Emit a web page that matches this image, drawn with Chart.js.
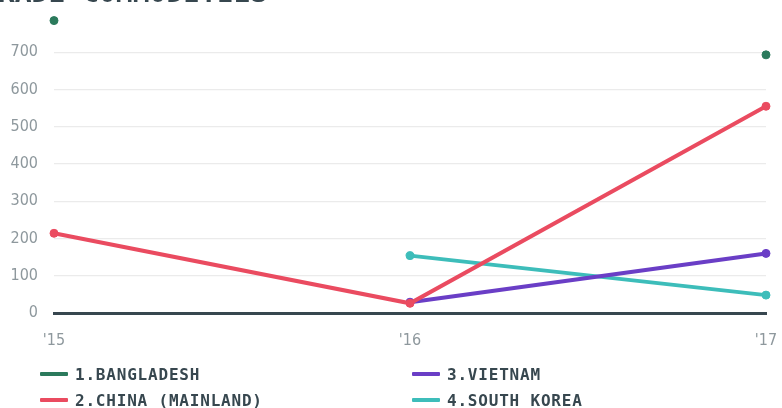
<!DOCTYPE html>
<html>
<head>
<meta charset="utf-8">
<script src="https://cdn.jsdelivr.net/npm/chart.js@4/dist/chart.umd.min.js"></script>
<style>
  html, body { margin: 0; padding: 0; background: #fff; overflow: hidden; }
  #wrap { position: relative; width: 782px; height: 408px; }
  #legend { position: absolute; left: 0; top: 0; width: 782px; height: 408px; pointer-events: none; }
  .item { position: absolute; display: flex; align-items: center; font-family: "DejaVu Sans Mono", monospace; font-weight: bold; font-size: 16px; color: #37474f; letter-spacing: 0.8px; white-space: nowrap; }
  .sw { width: 28px; height: 4px; margin-right: 7px; border-radius: 1px; }
</style>
</head>
<body>
<div id="wrap">
  <canvas id="c" width="782" height="408"></canvas>
  <div id="legend"></div>
</div>
<script>
const categories = ["'15", "'16", "'17"];
const seriesNames = ["1.BANGLADESH", "2.CHINA (MAINLAND)", "3.VIETNAM", "4.SOUTH KOREA"];
const bangladesh = [785, null, 693];
const china = [214, 26, 555];
const vietnam = [null, 29, 160];
const southKorea = [null, 154, 48];
const yTicks = [0, 100, 200, 300, 400, 500, 600, 700];
const titleText = "TRADE COMMODITIES";

const colors = ["#2b7a5c", "#ea4b60", "#6a3ec6", "#3dbdba"];
const values = [bangladesh, china, vietnam, southKorea];

const titlePlugin = {
  id: 'cutTitle',
  afterDraw(chart) {
    const ctx = chart.ctx;
    ctx.save();
    ctx.font = 'bold 28px "DejaVu Sans Mono", monospace';
    ctx.fillStyle = '#37474f';
    ctx.textBaseline = 'alphabetic';
    ctx.textAlign = 'left';
    ctx.fillText(titleText, -19, 2);
    ctx.restore();
  }
};

const chart = new Chart(document.getElementById('c'), {
  type: 'line',
  data: {
    labels: categories,
    datasets: seriesNames.map((n, i) => ({
      label: n,
      data: values[i],
      borderColor: colors[i],
      backgroundColor: colors[i],
      pointBackgroundColor: colors[i],
      pointBorderColor: colors[i],
      borderWidth: 4,
      pointRadius: 4,
      pointBorderWidth: 1,
      spanGaps: false,
      clip: false,
      tension: 0
    }))
  },
  options: {
    responsive: false,
    animation: false,
    layout: { padding: { top: 15, right: 3, bottom: 53, left: 0 } },
    plugins: { legend: { display: false }, tooltip: { enabled: false }, title: { display: false } },
    scales: {
      x: {
        offset: false,
        grid: { display: false, drawTicks: false },
        border: { display: true, color: '#37474f', width: 3 },
        ticks: { color: '#8e989d', font: { family: '"DejaVu Sans Condensed", "DejaVu Sans"', size: 16 }, padding: 18, maxRotation: 0 },
        afterFit(s) { s.height = 42; s.paddingLeft = 0; s.paddingRight = 16; }
      },
      y: {
        min: 0, max: 800,
        afterBuildTicks(s) { s.ticks = yTicks.map(v => ({ value: v })); },
        grid: { color: '#ebebeb', lineWidth: 1.2, drawTicks: false },
        border: { display: false },
        ticks: { color: '#8e989d', font: { family: '"DejaVu Sans Condensed", "DejaVu Sans"', size: 16 }, padding: 16 },
        afterFit(s) { s.width = 54; s.paddingTop = 0; s.paddingBottom = 0; }
      }
    }
  },
  plugins: [titlePlugin]
});

// legend (column-major, 2 rows)
const legend = document.getElementById('legend');
const pos = [[40, 374], [40, 400], [412, 374], [412, 400]];
chart.data.datasets.forEach((ds, i) => {
  const d = document.createElement('div');
  d.className = 'item';
  d.style.left = pos[i][0] + 'px';
  d.style.top = (pos[i][1] - 11) + 'px';
  d.style.height = '22px';
  const sw = document.createElement('span');
  sw.className = 'sw';
  sw.style.background = ds.borderColor;
  const t = document.createElement('span');
  t.textContent = ds.label;
  d.appendChild(sw); d.appendChild(t);
  legend.appendChild(d);
});
</script>
</body>
</html>
